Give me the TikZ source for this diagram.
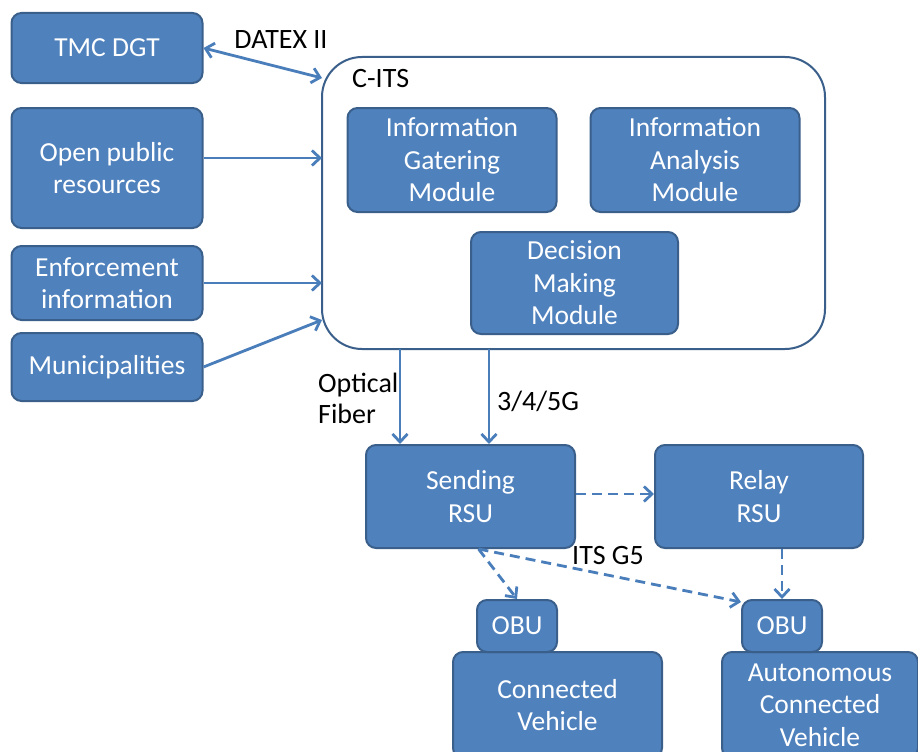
\documentclass[tikz,border=0pt]{standalone}
\usepackage{fontspec}
\setmainfont{Carlito}
\usetikzlibrary{arrows.meta}

\definecolor{boxfill}{HTML}{4F81BD}
\definecolor{boxline}{HTML}{3A5F8B}
\definecolor{arrowcol}{HTML}{4A7EBB}

\tikzset{
  blk/.style={rectangle,rounded corners=10,draw=boxline,line width=2pt,fill=boxfill,
    text=white,align=center,font=\fontsize{27.5}{32.5}\selectfont,inner sep=0pt},
  lbl/.style={font=\fontsize{28}{31}\selectfont,align=left,inner sep=0pt},
  conn/.style={draw=arrowcol,line width=2.8pt,-{Straight Barb[length=8pt,width=15pt]}},
  wire/.style={conn,dash pattern=on 10pt off 6pt}
}

\begin{document}
\begin{tikzpicture}[x=1pt,y=-1pt]
\useasboundingbox (0,0) rectangle (918,752);

\node[blk,minimum width=191,minimum height=70] (tmc) at (107,48) {TMC DGT};
\node[blk,minimum width=191,minimum height=120] (open) at (107,168) {Open public\\resources};
\node[blk,minimum width=191,minimum height=74] (enf) at (107,283) {Enforcement\\information};
\node[blk,minimum width=191,minimum height=68] (mun) at (107,367) {Municipalities};

% C-ITS block
\node[draw=boxline,line width=2pt,rounded corners=40,fill=white,
      minimum width=503,minimum height=292] (cits) at (573.5,203) {};
\node[lbl,anchor=west] (citslbl) at (352,79) {C-ITS};
\node[blk,minimum width=209,minimum height=104] (gath) at (452,160) {Information\\Gatering\\Module};
\node[blk,minimum width=209,minimum height=104] (anal) at (695,160) {Information\\Analysis\\Module};
\node[blk,minimum width=207,minimum height=102] (dec) at (574.5,283) {Decision\\Making\\Module};

\node[blk,minimum width=209,minimum height=103] (send) at (470.5,496.5) {Sending\\RSU};
\node[blk,minimum width=208,minimum height=103] (relay) at (759,496.5) {Relay\\RSU};

% vehicles run off the bottom edge
\node[blk,minimum width=209,minimum height=106] (veh1) at (557.5,705) {Connected\\Vehicle};
\node[blk,minimum width=80,minimum height=52] (obu1) at (517,626) {OBU};
\node[blk,minimum width=196,minimum height=106] (veh2) at (820,705) {Autonomous\\Connected\\Vehicle};
\node[blk,minimum width=80,minimum height=52] (obu2) at (782,626) {OBU};

\coordinate (in1) at (322,78);
\coordinate (in2) at (322,158);
\coordinate (in3) at (322,283);
\coordinate (in4) at (322,320);
\coordinate (s1) at (400,349);
\coordinate (s2) at (489,349);

\draw[conn,{Straight Barb[length=8pt,width=15pt]}-{Straight Barb[length=8pt,width=15pt]}] (tmc.east) -- (in1);
\draw[conn] (open.east |- in2) -- (in2);
\draw[conn] (enf.east) -- (in3);
\draw[conn] (mun.east) -- (in4);

\draw[conn] (s1) -- (s1 |- send.north);
\draw[conn] (s2) -- (s2 |- send.north);
\node[lbl,anchor=west] (fiber) at (318,398) {Optical\\Fiber};
\node[lbl,anchor=west] (g345) at (497,401) {3/4/5G};
\node[lbl] (datex) at (281,40) {DATEX II};

\draw[wire] (send.east |- 0,494) -- (relay.west |- 0,494);
\draw[wire] ([xshift=8pt]send.south) -- (obu1.north);
\draw[wire] ([xshift=8pt]send.south) -- ([yshift=-3pt]obu2.north west);
\draw[wire] (relay.south -| obu2.north) -- (obu2.north);
\node[lbl] (g5) at (608,556) {ITS G5};
\end{tikzpicture}
\end{document}
